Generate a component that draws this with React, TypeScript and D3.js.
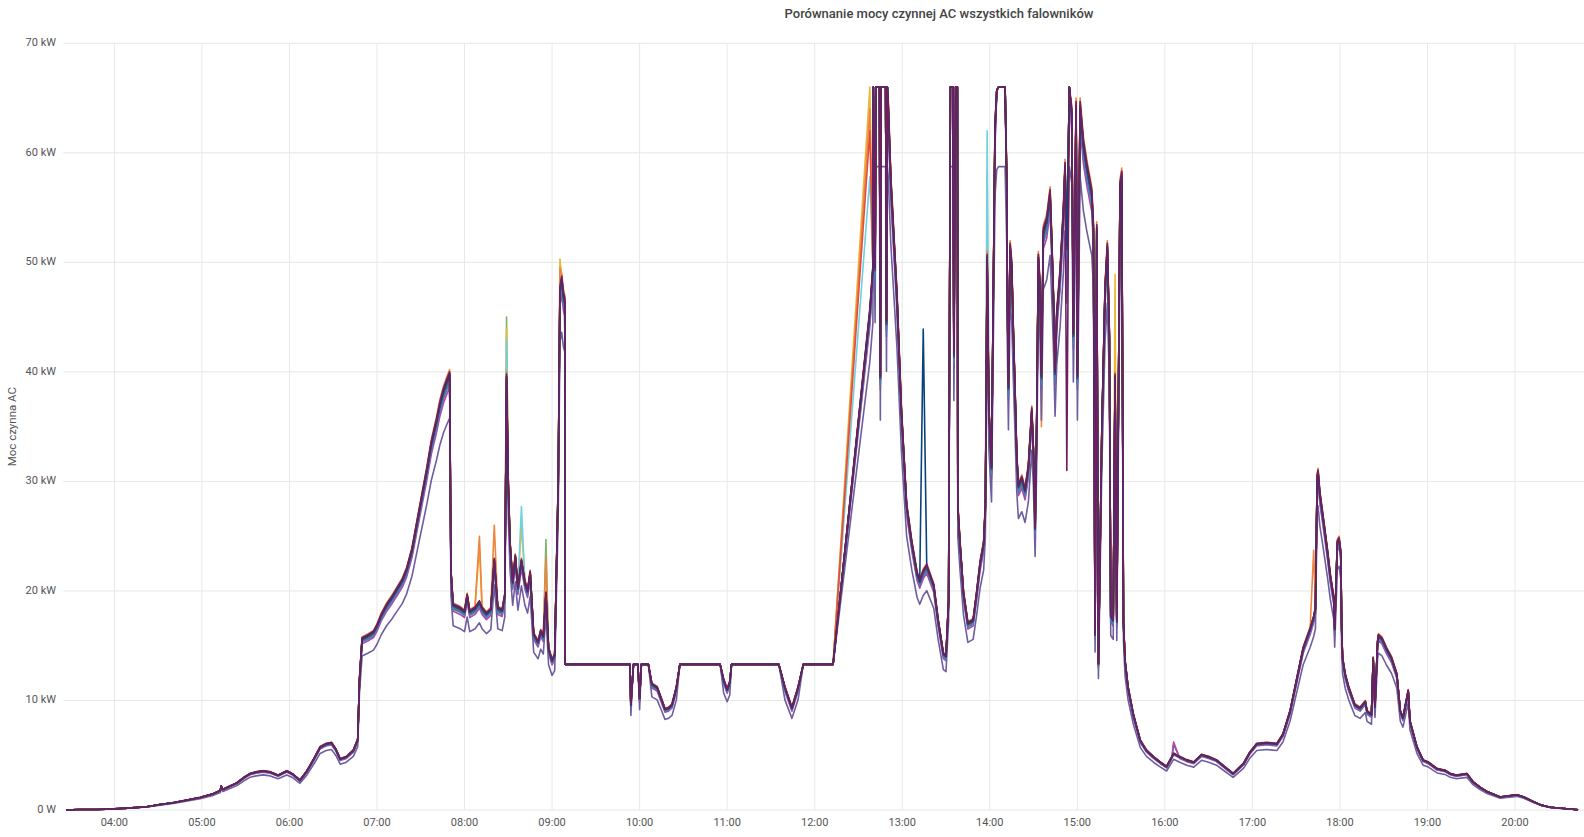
import React from 'react';
import * as d3 from 'd3';

const chartTitle = 'Porównanie mocy czynnej AC wszystkich falowników';
const yAxisTitle = 'Moc czynna AC';

const hourTicks = [4, 5, 6, 7, 8, 9, 10, 11, 12, 13, 14, 15, 16, 17, 18, 19, 20];
const hourTickLabels = hourTicks.map((h) => `${String(h).padStart(2, '0')}:00`);
const kwTicks = [0, 10, 20, 30, 40, 50, 60, 70];
const kwTickLabels = ['0 W', '10 kW', '20 kW', '30 kW', '40 kW', '50 kW', '60 kW', '70 kW'];

// export limit (flat) and clipping ceiling
const FLAT_LIMIT_KW = 13.3;
const CLIP_KW = 65.5;

// reference profile [hour of day, kW] read from the top of the bundle
const baseProfile: [number, number][] = [
  [3.45, 0], [3.6, 0.05], [3.8, 0.05], [4.0, 0.1], [4.2, 0.2], [4.37, 0.3], [4.52, 0.5], [4.67, 0.67],
  [4.82, 0.9], [4.98, 1.16], [5.13, 1.5], [5.21, 1.8], [5.22, 2.2], [5.24, 1.9], [5.32, 2.2], [5.4, 2.5],
  [5.48, 3.0], [5.55, 3.35], [5.62, 3.5], [5.7, 3.6], [5.78, 3.5], [5.87, 3.2], [5.97, 3.6], [6.04, 3.3],
  [6.12, 2.74], [6.2, 3.6], [6.29, 4.87], [6.35, 5.8], [6.42, 6.1], [6.48, 6.2], [6.53, 5.6], [6.58, 4.7],
  [6.65, 4.9], [6.73, 5.5], [6.78, 6.5], [6.8, 12], [6.83, 15.8], [6.9, 16.1], [6.96, 16.4], [7.0, 17.0],
  [7.05, 18.0], [7.11, 18.9], [7.17, 19.6], [7.23, 20.4], [7.29, 21.2], [7.34, 22.2], [7.4, 24.0],
  [7.45, 26.2], [7.51, 28.8], [7.57, 31.4], [7.62, 33.8], [7.68, 35.9], [7.72, 37.5], [7.76, 38.7],
  [7.8, 39.6], [7.83, 40.2], [7.845, 22], [7.87, 18.9], [7.95, 18.6], [8.0, 18.3], [8.03, 19.8],
  [8.06, 18.3], [8.12, 18.6], [8.17, 19.2], [8.2, 18.6], [8.25, 18.1], [8.3, 18.5], [8.34, 23.1],
  [8.38, 18.6], [8.43, 18.4], [8.46, 19.8], [8.48, 40], [8.5, 30], [8.52, 24.6], [8.55, 21], [8.58, 23.4],
  [8.61, 20.5], [8.65, 23], [8.69, 21], [8.72, 20.2], [8.75, 21.9], [8.79, 16.2], [8.84, 15.5],
  [8.87, 16.5], [8.9, 16.0], [8.93, 20], [8.96, 14.9], [9.0, 13.8], [9.03, 14.3], [9.07, 30], [9.09, 48],
  [9.11, 49], [9.13, 47.5], [9.145, 47], [9.15, 13.3],
  [9.89, 13.3], [9.9, 9.7], [9.93, 13.3], [9.98, 13.3], [10.0, 10.3], [10.02, 13.3], [10.1, 13.3],
  [10.14, 11.6], [10.2, 11.3], [10.25, 10.2], [10.29, 9.3], [10.33, 9.4], [10.37, 9.7], [10.42, 11.3],
  [10.46, 13.3], [10.92, 13.3], [10.96, 12.0], [11.0, 11.1], [11.03, 11.8], [11.05, 13.3], [11.59, 13.3],
  [11.66, 11.3], [11.74, 9.4], [11.81, 11.3], [11.87, 13.3], [12.21, 13.3],
  [12.63, 46], [12.665, 50], [12.67, 66], [12.69, 50], [12.7, 66], [12.74, 66], [12.75, 40], [12.76, 66],
  [12.81, 66], [12.82, 45], [12.83, 66], [12.84, 65], [12.87, 58], [12.94, 47.4], [12.99, 36.9],
  [13.05, 28.1], [13.11, 24.6], [13.17, 21.8], [13.2, 21.1], [13.24, 22], [13.28, 22.5], [13.36, 20.7],
  [13.41, 17.5], [13.47, 14.4], [13.5, 14.2], [13.53, 19.4], [13.55, 66], [13.58, 66], [13.59, 42],
  [13.61, 66], [13.63, 66], [13.635, 28], [13.66, 24.6], [13.7, 20], [13.75, 17.2], [13.81, 17.5],
  [13.85, 20], [13.89, 22.8], [13.93, 24.6], [13.95, 28.1], [13.97, 51], [13.99, 36.9], [14.02, 31.6],
  [14.04, 47.5], [14.06, 63], [14.08, 65.7], [14.1, 66], [14.175, 66], [14.194, 58], [14.201, 47.4],
  [14.213, 39], [14.232, 52], [14.251, 50.2], [14.27, 43.9], [14.289, 38.6], [14.308, 32.7],
  [14.327, 29.9], [14.366, 30.6], [14.403, 29.5], [14.441, 31.6], [14.48, 36.9], [14.498, 33.3],
  [14.518, 26], [14.535, 35], [14.555, 51], [14.575, 48.1], [14.59, 40], [14.612, 53.4], [14.651, 54.4],
  [14.689, 56.9], [14.71, 52], [14.727, 47.4], [14.746, 40.4], [14.765, 45.7], [14.803, 49.5],
  [14.841, 55.2], [14.86, 59.4], [14.88, 52], [14.909, 66], [14.937, 64.3], [14.955, 43.9], [14.986, 65],
  [15.001, 40], [15.032, 65], [15.069, 61.5], [15.108, 59.4], [15.165, 56.9], [15.184, 53.7],
  [15.203, 16.2], [15.222, 53.7], [15.241, 13.5], [15.28, 35], [15.317, 48.1], [15.343, 52],
  [15.366, 43.9], [15.382, 17.9], [15.41, 17.5], [15.431, 40], [15.451, 17.4], [15.488, 57.6],
  [15.508, 58.6], [15.527, 17.4], [15.546, 13.7], [15.58, 11.3], [15.64, 8.8], [15.72, 6.4], [15.79, 5.5],
  [15.87, 4.9], [15.95, 4.4], [16.02, 4.0], [16.08, 4.9], [16.1, 5.2], [16.17, 4.9], [16.25, 4.6],
  [16.33, 4.4], [16.42, 5.1], [16.5, 4.9], [16.59, 4.6], [16.68, 4.0], [16.78, 3.35], [16.9, 4.3],
  [16.97, 5.3], [17.05, 6.1], [17.16, 6.2], [17.28, 6.1], [17.35, 7.0], [17.43, 9.1], [17.51, 12.2],
  [17.58, 14.9], [17.66, 16.7], [17.7, 17.8], [17.72, 18.6], [17.74, 30.7], [17.75, 31.2], [17.77, 29.2],
  [17.82, 26.2], [17.86, 23.7], [17.89, 21.6], [17.93, 19.5], [17.94, 16.7], [17.97, 24.7], [17.99, 25],
  [18.01, 23.7], [18.02, 16.7], [18.03, 14.0], [18.06, 12.5], [18.1, 11.3], [18.17, 9.7], [18.23, 9.4],
  [18.29, 10.0], [18.31, 9.1], [18.36, 8.8], [18.38, 14], [18.4, 9.5], [18.43, 15.5], [18.44, 16.1],
  [18.48, 15.8], [18.53, 14.9], [18.59, 14.0], [18.65, 12.5], [18.69, 9.1], [18.72, 8.5], [18.78, 11.0],
  [18.8, 8.2], [18.86, 6.4], [18.88, 5.8], [18.95, 4.6], [19.01, 4.4], [19.11, 3.8], [19.2, 3.65],
  [19.26, 3.35], [19.33, 3.2], [19.45, 3.35], [19.52, 2.6], [19.6, 2.1], [19.68, 1.7], [19.83, 1.2],
  [20.02, 1.4], [20.1, 1.2], [20.21, 0.76], [20.3, 0.45], [20.4, 0.25], [20.59, 0.12], [20.72, 0.02],
];

const inverterColors = [
  '#7EB26D', '#EAB839', '#6ED0E0', '#EF843C', '#E24D42', '#1F78C1', '#BA43A9', '#705DA0',
  '#508642', '#CCA300', '#447EBC', '#C15C17', '#890F02', '#584477', '#0A437C', '#6D1F62',
];
// relative level of each inverter against the reference profile
const inverterScale = [
  0.985, 0.995, 0.99, 1.0, 0.99, 0.975, 0.96, 0.89, 0.98, 0.99, 0.97, 0.99, 0.985, 0.985, 0.99, 0.995,
];
// individual readings that stand out of the bundle: [inverter, hour, kW]
const inverterSpikes: [number, number, number][] = [
  [3, 8.17, 25.0], [1, 8.17, 24.0], [3, 8.34, 26.0], [0, 8.48, 45.0], [1, 8.48, 44.0], [2, 8.48, 43.0],
  [2, 8.65, 27.7], [1, 8.65, 26.0], [0, 8.93, 24.7], [3, 8.93, 23.0], [1, 9.09, 50.3], [3, 9.09, 49.5],
  [1, 12.63, 66.0], [3, 12.63, 64.0], [4, 12.63, 62.0], [2, 12.63, 57.8], [14, 13.24, 43.9],
  [2, 13.97, 62.0], [1, 13.97, 58.0], [3, 14.59, 35.0], [15, 14.88, 31.0], [1, 15.431, 48.9],
  [6, 16.1, 6.2], [5, 16.1, 6.0], [3, 17.7, 23.7],
];

function inverterSeries(idx: number): [number, number][] {
  const s = inverterScale[idx];
  return baseProfile.map(([h, v]) => {
    const spike = inverterSpikes.find((p) => p[0] === idx && Math.abs(p[1] - h) < 1e-6);
    if (spike) return [h, spike[2]];
    if (v === FLAT_LIMIT_KW) return [h, v];
    if (v >= CLIP_KW) return [h, s < 0.92 ? v * s : v];
    return [h, v * s];
  });
}

export default function App() {
  const W = 1584;
  const H = 837;
  const left = 63.3;
  const right = 1584;
  const top = 43.3;
  const bottom = 810;
  const x = d3.scaleLinear().domain([3.4167, 20.788]).range([left, right]);
  const y = d3.scaleLinear().domain([0, 70]).range([bottom, top]);
  const line = d3
    .line<[number, number]>()
    .x((d) => x(d[0]))
    .y((d) => y(d[1]));
  const font = 'Roboto, "Noto Sans", sans-serif';

  return (
    <svg
      width={W}
      height={H}
      style={{ position: 'absolute', left: 0, top: 0, display: 'block', background: '#fff' }}
    >
      <g>
        {hourTicks.map((h) => (
          <line key={'vg' + h} x1={x(h)} x2={x(h)} y1={top} y2={bottom} stroke="#e8e8e8" strokeWidth={1} />
        ))}
        {kwTicks.map((k) => (
          <line key={'hg' + k} x1={left} x2={right} y1={y(k)} y2={y(k)} stroke="#e6e6e6" strokeWidth={1} />
        ))}
      </g>
      <g>
        {inverterColors.map((c, i) => (
          <path
            key={'s' + i}
            d={line(inverterSeries(i)) || ''}
            fill="none"
            stroke={c}
            strokeWidth={1.6}
            strokeLinejoin="round"
          />
        ))}
      </g>
      <g fontFamily={font} fontSize={11} fill="#555">
        {kwTicks.map((k, i) => (
          <text key={'yl' + k} x={56} y={y(k)} textAnchor="end" dominantBaseline="middle">
            {kwTickLabels[i]}
          </text>
        ))}
        {hourTicks.map((h, i) => (
          <text key={'xl' + h} x={x(h)} y={826} textAnchor="middle">
            {hourTickLabels[i]}
          </text>
        ))}
      </g>
      <text
        transform={`translate(13, ${(top + bottom) / 2}) rotate(-90)`}
        textAnchor="middle"
        dominantBaseline="middle"
        fontFamily={font}
        fontSize={11.5}
        fill="#555"
      >
        {yAxisTitle}
      </text>
      <text x={939} y={18} textAnchor="middle" fontFamily={font} fontSize={13} fontWeight={500} fill="#444">
        {chartTitle}
      </text>
    </svg>
  );
}
